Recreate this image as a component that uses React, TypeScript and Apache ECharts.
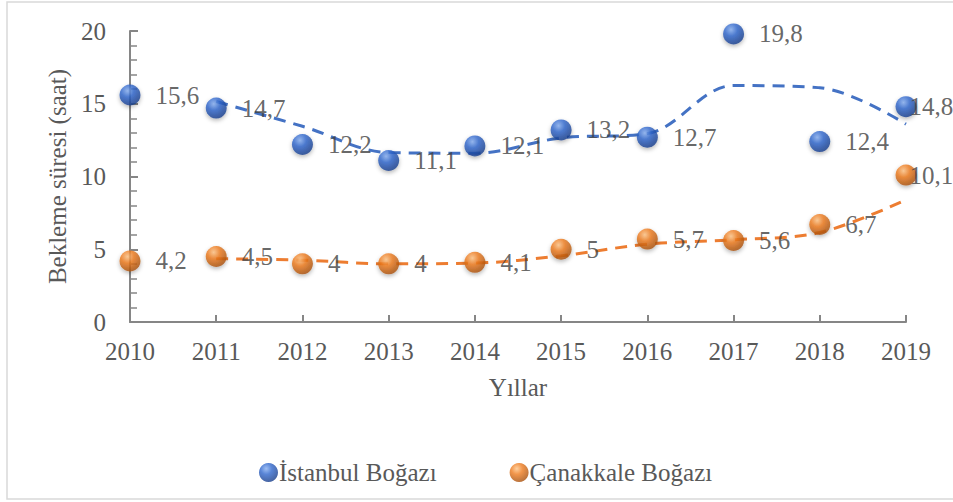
import React, { useEffect, useRef } from "react";
import * as echarts from "echarts";

const years = ["2010", "2011", "2012", "2013", "2014", "2015", "2016", "2017", "2018", "2019"];
const istanbul = [15.6, 14.7, 12.2, 11.1, 12.1, 13.2, 12.7, 19.8, 12.4, 14.8];
const canakkale = [4.2, 4.5, 4.0, 4.0, 4.1, 5.0, 5.7, 5.6, 6.7, 10.1];
// dashed trend curves (first year has none)
const istanbulTrend = [null, 15.15, 13.45, 11.65, 11.6, 12.65, 12.95, 16.25, 16.1, 13.6];
const canakkaleTrend = [null, 4.35, 4.25, 4.0, 4.05, 4.55, 5.35, 5.65, 6.15, 8.4];
const yTicks = { min: 0, max: 20, interval: 5 };

const FONT = "Liberation Serif";

function sphere(light: string, mid: string, dark: string) {
  return new echarts.graphic.RadialGradient(0.38, 0.3, 0.75, [
    { offset: 0, color: light },
    { offset: 0.4, color: mid },
    { offset: 1, color: dark },
  ]);
}

export default function App() {
  const ref = useRef<HTMLDivElement>(null);
  useEffect(() => {
    document.body.style.margin = "0";
    const chart = echarts.init(ref.current!, undefined, { renderer: "svg" });
    const fmt = (p: any) => String(p.value).replace(".", ",");
    const mkData = (arr: number[]) =>
      arr.map((v, i) =>
        i === arr.length - 1
          ? { value: v, label: { distance: -7 } }
          : { value: v }
      );
    const labelStyle = {
      show: true,
      position: "right" as const,
      distance: 15,
      formatter: fmt,
      fontFamily: FONT,
      fontSize: 25,
      color: "#404040",
    };
    const blue = sphere("#86aef0", "#2f66cc", "#163a85");
    const orange = sphere("#ffc486", "#ee7b1e", "#a24c0a");
    chart.setOption({
      animation: false,
      textStyle: { fontFamily: FONT },
      graphic: [
        {
          type: "rect",
          shape: { x: 7, y: 2, width: 960, height: 497 },
          style: { fill: "none", stroke: "#d9d9d9", lineWidth: 1.5 },
          silent: true,
        },
      ],
      grid: { left: 130, right: 47, top: 31, bottom: 180 },
      legend: {
        data: ["İstanbul Boğazı", "Çanakkale Boğazı"],
        left: 254,
        top: 455,
        icon: "circle",
        itemWidth: 19,
        itemHeight: 19,
        itemGap: 73,
        textStyle: { fontFamily: FONT, fontSize: 25, color: "#595959", padding: [0, 0, 0, -4] },
      },
      xAxis: {
        type: "category",
        data: years,
        boundaryGap: false,
        name: "Yıllar",
        nameLocation: "middle",
        nameGap: 53,
        nameTextStyle: { fontFamily: FONT, fontSize: 25, color: "#595959" },
        axisLine: { lineStyle: { color: "#868686", width: 2 } },
        axisTick: { inside: true, length: 7, lineStyle: { color: "#868686", width: 2 } },
        axisLabel: { fontFamily: FONT, fontSize: 25, color: "#595959", margin: 17 },
        splitLine: { show: false },
      },
      yAxis: {
        type: "value",
        min: yTicks.min,
        max: yTicks.max,
        interval: yTicks.interval,
        name: "Bekleme süresi (saat)",
        nameLocation: "middle",
        nameGap: 58,
        nameTextStyle: { fontFamily: FONT, fontSize: 25, color: "#595959" },
        axisLine: { show: true, lineStyle: { color: "#868686", width: 2 } },
        axisTick: { show: true, inside: true, length: 8, lineStyle: { color: "#868686", width: 2 } },
        minorTick: { show: true, splitNumber: 5, length: 7, lineStyle: { color: "#868686", width: 1.5 } },
        axisLabel: { fontFamily: FONT, fontSize: 25, color: "#595959", margin: 24 },
        splitLine: { show: false },
      },
      series: [
        {
          name: "İstanbul trend",
          type: "line",
          data: istanbulTrend,
          smooth: 0.35,
          showSymbol: false,
          symbol: "none",
          lineStyle: { color: "#4472C4", width: 3, type: [12, 8] },
          z: 2,
        },
        {
          name: "Çanakkale trend",
          type: "line",
          data: canakkaleTrend,
          smooth: 0.35,
          showSymbol: false,
          symbol: "none",
          lineStyle: { color: "#ED7D31", width: 3, type: [12, 8] },
          z: 2,
        },
        {
          name: "İstanbul Boğazı",
          type: "scatter",
          data: mkData(istanbul),
          symbolSize: 21,
          itemStyle: {
            color: blue,
            shadowBlur: 4,
            shadowColor: "rgba(0,0,0,0.35)",
            shadowOffsetY: 2,
          },
          label: labelStyle,
          z: 3,
        },
        {
          name: "Çanakkale Boğazı",
          type: "scatter",
          data: mkData(canakkale),
          symbolSize: 21,
          itemStyle: {
            color: orange,
            shadowBlur: 4,
            shadowColor: "rgba(0,0,0,0.35)",
            shadowOffsetY: 2,
          },
          label: labelStyle,
          z: 3,
        },
      ],
    });
    return () => chart.dispose();
  }, []);
  return <div ref={ref} style={{ width: 953, height: 502 }} />;
}
